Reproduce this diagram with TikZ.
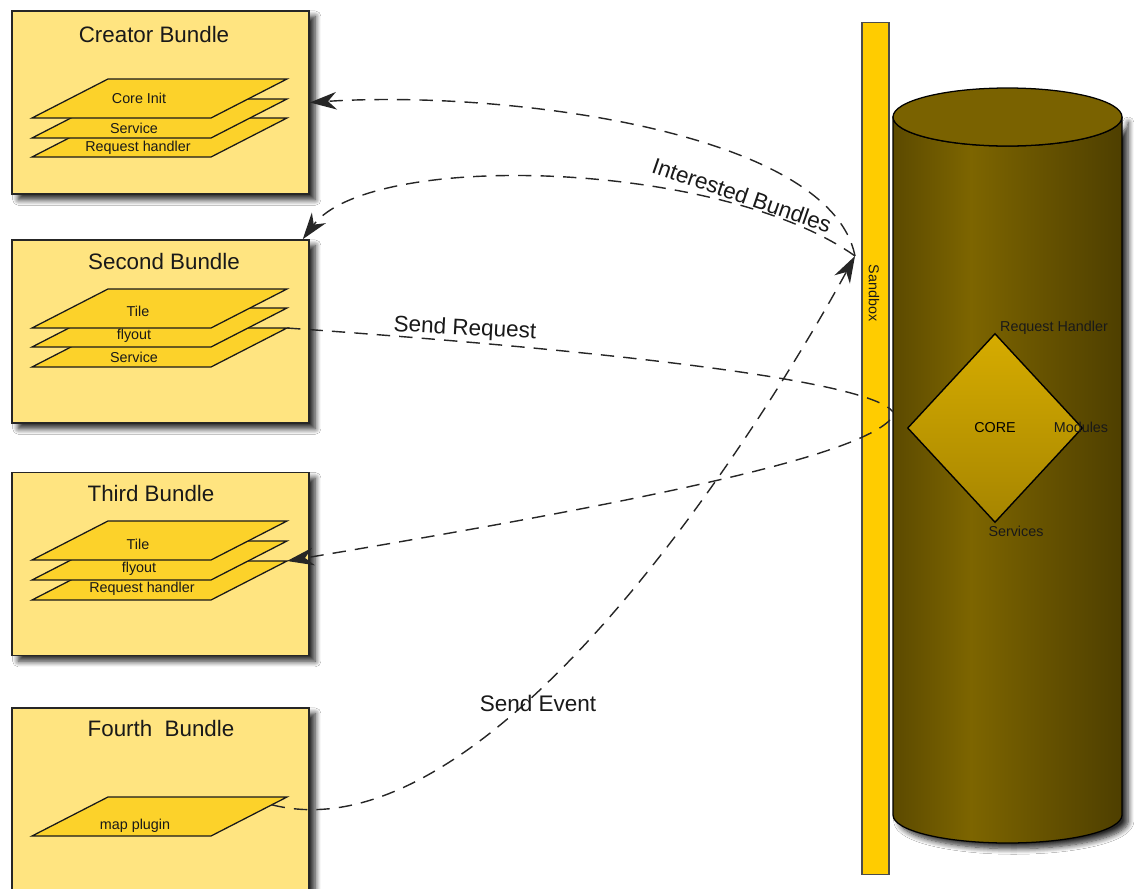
\documentclass[tikz,border=0pt]{standalone}
\usepackage{fontspec}
\setmainfont{Liberation Sans}
\usetikzlibrary{positioning,arrows.meta,shapes.geometric,shadows.blur}
\definecolor{bundlebg}{RGB}{255,228,128}
\definecolor{layerbg}{RGB}{252,210,42}
\definecolor{sandboxbg}{RGB}{255,204,0}
\definecolor{cylA}{RGB}{92,74,0}
\definecolor{cylB}{RGB}{125,101,0}
\definecolor{cylC}{RGB}{102,82,0}
\definecolor{cylD}{RGB}{78,63,0}
\definecolor{cyltop}{RGB}{122,98,0}
\definecolor{coretop}{RGB}{214,172,0}
\definecolor{corebot}{RGB}{166,133,0}
\pgfdeclarehorizontalshading{cylbody}{100bp}{color(0bp)=(cylA); color(25bp)=(cylA);
  color(42bp)=(cylB); color(58bp)=(cylC); color(75bp)=(cylD); color(100bp)=(cylD)}

% one flat layer of a bundle: name, bottom edge y, label position, text
\newcommand{\layer}[4]{%
  \draw[layerbox] (32,#2) -- ++(179,0) -- coordinate[pos=.8] (#1-e) ++(76,-39)
    coordinate (#1-tr) -- ++(-179,0) -- cycle;
  \node[lbl] (#1) at #3 {#4};}

\begin{document}
\begin{tikzpicture}[x=0.025cm,y=-0.025cm,
    softshadow/.style={blur shadow={shadow xshift=4.5pt,shadow yshift=-4pt,
                       shadow blur radius=4pt,shadow blur steps=8,shadow opacity=85}},
    bundle/.style={draw=black!85,line width=1.1pt,fill=bundlebg,inner sep=0pt,
                   minimum width=7.425cm,minimum height=4.575cm,softshadow},
    bundletitle/.style={font=\fontsize{15.9}{18}\selectfont,text=black!90},
    layerbox/.style={draw=black!90,line width=0.9pt,fill=layerbg},
    lbl/.style={font=\fontsize{10.2}{12}\selectfont,text=black!90,inner sep=1pt},
    msg/.style={font=\fontsize{16}{19}\selectfont,text=black!90,inner sep=1pt},
    flow/.style={draw=black!85,line width=1pt,dash pattern=on 9.5pt off 6.5pt},
    flowarrow/.style={-{Stealth[length=19pt,width=12.5pt,inset=6pt]}}]
    \useasboundingbox (0,0) rectangle (1134,889);
    \fill[white] (0,0) rectangle (1134,889);

    % bundles
    \node[bundle] (creator) at (160.5,102.5) {};
    \node[bundle] (second) at (160.5,331.5) {};
    \node[bundle] (third) at (160.5,564) {};
    \node[bundle] (fourth) at (160.5,799.5) {};

    \node[bundletitle] (creatort) at (154,35) {Creator Bundle};
    \node[bundletitle] (secondt) at (164,262) {Second Bundle};
    \node[bundletitle] (thirdt) at (151,494) {Third Bundle};
    \node[bundletitle] (fourtht) at (161,729) {Fourth\ \ Bundle};

    \layer{crh}{157}{(138,148)}{Request handler}
    \layer{csvc}{138}{(134,128)}{Service}
    \layer{cinit}{118}{(139,98)}{Core Init}

    \layer{ssvc}{367}{(134,357)}{Service}
    \layer{sfly}{347}{(134,336)}{flyout}
    \layer{stile}{328}{(138,311)}{Tile}

    \layer{trh}{600}{(142,589)}{Request handler}
    \layer{tfly}{580}{(139,569)}{flyout}
    \layer{ttile}{560}{(138,544)}{Tile}

    \layer{mapplug}{836}{(135,826)}{map plugin}

    % sandbox bar
    \node[draw=black!70,line width=0.8pt,fill=sandboxbg,inner sep=0pt,
          minimum width=0.675cm,minimum height=21.275cm] (sandbox) at (875.5,448.5) {};
    \node[lbl,rotate=-90] (sbtext) at (874,293) {Sandbox};

    % core cylinder
    \path[draw=black,line width=0.9pt,shade,shading=cylbody,softshadow]
        (893,117) -- (893,815) arc[start angle=180,end angle=0,x radius=114.5,y radius=28]
        -- (1122,117) arc[start angle=0,end angle=180,x radius=114.5,y radius=29] -- cycle;
    \draw[line width=0.9pt,fill=cyltop] (1007.5,117) ellipse[x radius=114.5,y radius=29];

    \node[diamond,draw=black,line width=1pt,top color=coretop,bottom color=corebot,
          minimum width=4.375cm,minimum height=4.725cm,inner sep=0pt,
          font=\fontsize{10.2}{12}\selectfont] (core) at (995,428) {CORE};
    \node[lbl] (rhtext) at (1054,328) {Request Handler};
    \node[lbl] (modtext) at (1081,427) {Modules};
    \node[lbl] (svctext) at (1016,531) {Services};

    % messages
    \coordinate (hub) at (855,256);
    \coordinate (corein) at (893,412);
    \coordinate (coreout) at (890,420);

    \draw[flow,flowarrow] (hub) .. controls (830,130) and (500,90) .. (creator.east);
    \draw[flow,flowarrow] (hub) .. controls (720,160) and (370,150) .. ([xshift=-5]second.north east);
    \draw[flow] (ssvc-tr) .. controls (600,350) and (870,380) .. (corein);
    \draw[flow,flowarrow] (coreout) .. controls (850,460) and (620,505) .. (trh-tr);
    \draw[flow,flowarrow] (mapplug-e) .. controls (490,860) and (760,430) .. (hub);

    \node[msg,rotate=-19] (ibtext) at (742,195) {Interested Bundles};
    \node[msg,rotate=-3] (srtext) at (465,329) {Send Request};
    \node[msg] (setext) at (538,703) {Send Event};
\end{tikzpicture}
\end{document}
